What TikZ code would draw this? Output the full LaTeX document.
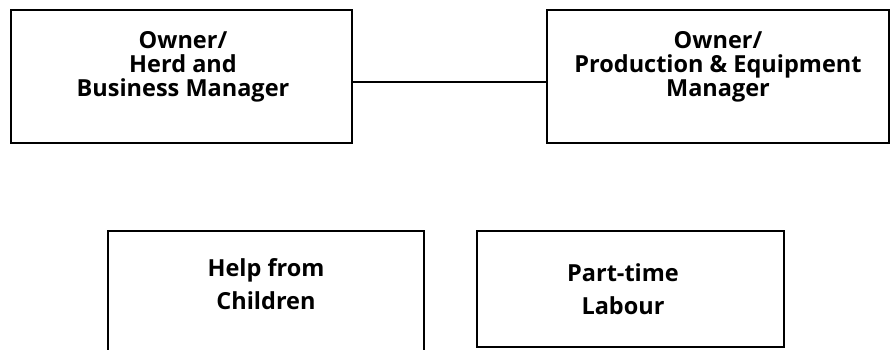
\documentclass[tikz,border=0pt]{standalone}
\usepackage{fontspec}
\setmainfont{Open Sans}
\tikzset{
  box/.style={draw,line width=2.5pt,inner sep=0pt},
  lbl/.style={align=center,inner sep=0pt,font=\fontsize{23.5}{24}\selectfont\bfseries},
  widelbl/.style={lbl,font=\fontsize{23.5}{33}\selectfont\bfseries},
  link/.style={line width=2.5pt}
}

\begin{document}
\begin{tikzpicture}[x=1pt,y=-1pt]
\useasboundingbox (0,0) rectangle (894,349);

% owners
\node[box,minimum width=341pt,minimum height=133pt] (herd) at (181.5,76.5) {};
\node[box,minimum width=342pt,minimum height=133pt] (prod) at (718,76.5) {};

\node[lbl] (herdtxt) at (183,67) {Owner/\\Herd and\\Business Manager};
\node[lbl] (prodtxt) at (718,67) {Owner/\\Production \& Equipment\\Manager};

\draw[link] ([yshift=-5.5pt]herd.east) -- ([yshift=-5.5pt]prod.west);

% helpers
\node[box,minimum width=316pt,minimum height=124pt] (kids) at (266,293) {};
\node[box,minimum width=307pt,minimum height=116pt] (parttime) at (630.5,289) {};

\node[widelbl] (kidstxt) at (266,284.5) {Help from\\Children};
\node[widelbl] (parttimetxt) at (623,289.5) {Part-time\\Labour};

\end{tikzpicture}
\end{document}
